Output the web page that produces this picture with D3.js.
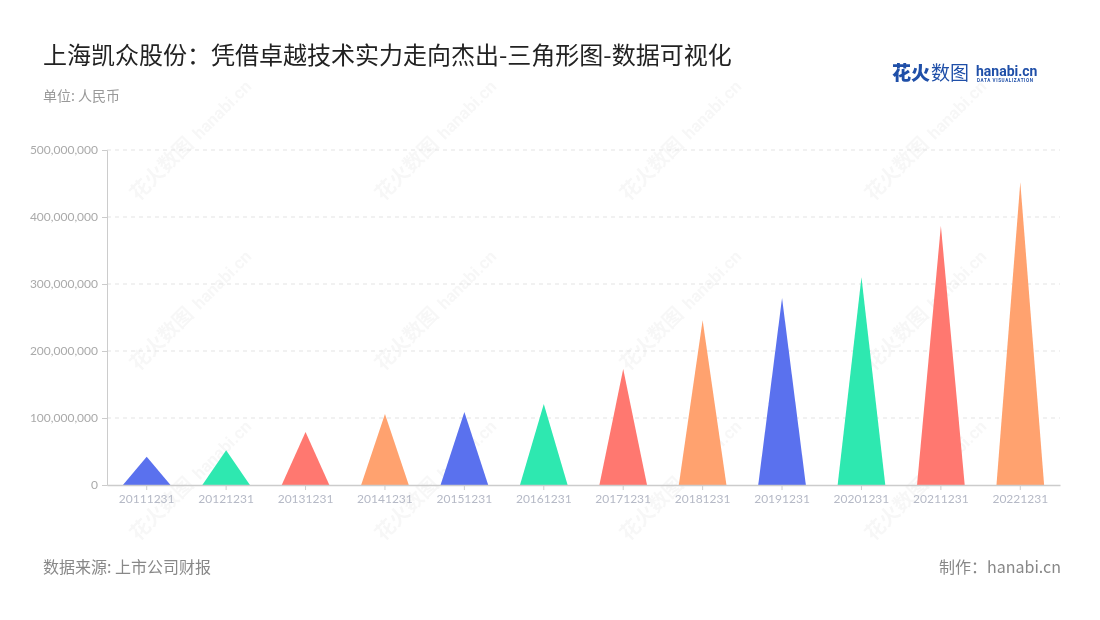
<!DOCTYPE html>
<html><head><meta charset="utf-8">
<script src="https://cdn.jsdelivr.net/npm/d3@7"></script>
<style>body{margin:0;background:#fff;}svg{display:block;font-family:"Noto Sans CJK SC","Noto Sans",sans-serif;}</style>
</head><body>
<svg id="c" width="1100" height="620"></svg>
<script>
const categories = ["20111231","20121231","20131231","20141231","20151231","20161231","20171231","20181231","20191231","20201231","20211231","20221231"];
const values = [42000000,52000000,79000000,106000000,109000000,121000000,173000000,246000000,279000000,310000000,387000000,452000000];
const colors = ["#5a71ee","#2ee8b0","#ff7870","#ffa26f"];
const yTicks = [0,100000000,200000000,300000000,400000000,500000000];

const svg = d3.select("#c");
const m = {l:107, r:1060, t:150, b:485};
const x = d3.scaleBand().domain(categories).range([m.l, m.r]).paddingInner(0.4).paddingOuter(0.2);
const y = d3.scaleLinear().domain([0,500000000]).range([m.b, m.t]);

// watermarks
const wm = svg.append("g").attr("fill","#000").attr("opacity",0.035);
[[170,170],[415,170],[660,170],[905,170],[170,340],[415,340],[660,340],[905,340],[170,510],[415,510],[660,510],[905,510]].forEach(([cx,cy])=>{
  const g = wm.append("g").attr("transform",`translate(${cx},${cy}) rotate(-45)`);
  g.append("text").attr("x",-45).attr("y",0).attr("font-size",20).attr("font-weight",700).text("花火数图");
  g.append("text").attr("x",42).attr("y",0).attr("font-size",17).attr("font-weight",700).attr("font-family","Roboto, sans-serif").text("hanabi.cn");
});

// grid
svg.append("g").selectAll("line").data(yTicks.slice(1)).join("line")
  .attr("x1",m.l).attr("x2",m.r).attr("y1",d=>y(d)).attr("y2",d=>y(d))
  .attr("stroke","#e3e3e3").attr("stroke-dasharray","4,4");

// y axis
const ya = svg.append("g").attr("transform",`translate(${m.l},0)`)
  .call(d3.axisLeft(y).tickValues(yTicks).tickFormat(d3.format(",")).tickSize(5).tickPadding(4));
ya.select(".domain").attr("stroke","#ccc");
ya.selectAll(".tick line").attr("stroke","#ccc");
ya.selectAll("text").attr("fill","#aaa").attr("font-size",12).attr("font-family","Lato, 'Noto Sans', sans-serif");

// x axis
const xa = svg.append("g").attr("transform",`translate(0,${m.b})`)
  .call(d3.axisBottom(x).tickSize(5).tickPadding(4).tickSizeOuter(0));
xa.select(".domain").attr("stroke","#ccc").attr("stroke-width",1.5);
xa.selectAll(".tick line").attr("stroke","#ccc");
xa.selectAll("text").attr("fill","#b5b9c6").attr("font-size",12).attr("font-family","Lato, 'Noto Sans', sans-serif");

// triangles
svg.append("g").selectAll("path").data(categories).join("path")
  .attr("d",(d,i)=>{
    const x0 = x(d), w = x.bandwidth();
    return `M${x0},${y(0)}L${x0+w/2},${y(values[i])}L${x0+w},${y(0)}Z`;
  })
  .attr("fill",(d,i)=>colors[i%4]);
xa.raise();

// title
svg.append("text").attr("x",43).attr("y",64).attr("font-size",24).attr("fill","#222").text("上海凯众股份：凭借卓越技术实力走向杰出-三角形图-数据可视化");
svg.append("text").attr("x",43).attr("y",101).attr("font-size",14).attr("fill","#999").text("单位: 人民币");

// logo
svg.append("text").attr("x",892).attr("y",80).attr("font-size",19).attr("font-weight",900).attr("fill","#1f4fa8").text("花火");
svg.append("text").attr("x",931).attr("y",80).attr("font-size",19).attr("fill","#1f4fa8").text("数图");
svg.append("text").attr("x",976).attr("y",76).attr("font-size",14).attr("font-weight",700).attr("fill","#1f4fa8").attr("font-family","Roboto, sans-serif").text("hanabi.cn");
svg.append("text").attr("x",977).attr("y",82).attr("font-size",4.6).attr("font-weight",700).attr("fill","#1f4fa8").attr("font-family","Roboto, sans-serif").attr("letter-spacing",0.6).text("DATA VISUALIZATION");

// footer
svg.append("text").attr("x",43).attr("y",573).attr("font-size",16).attr("fill","#888").text("数据来源: 上市公司财报");
svg.append("text").attr("x",1061).attr("y",573).attr("text-anchor","end").attr("font-size",16).attr("fill","#888").text("制作：hanabi.cn");
</script>
</body></html>
